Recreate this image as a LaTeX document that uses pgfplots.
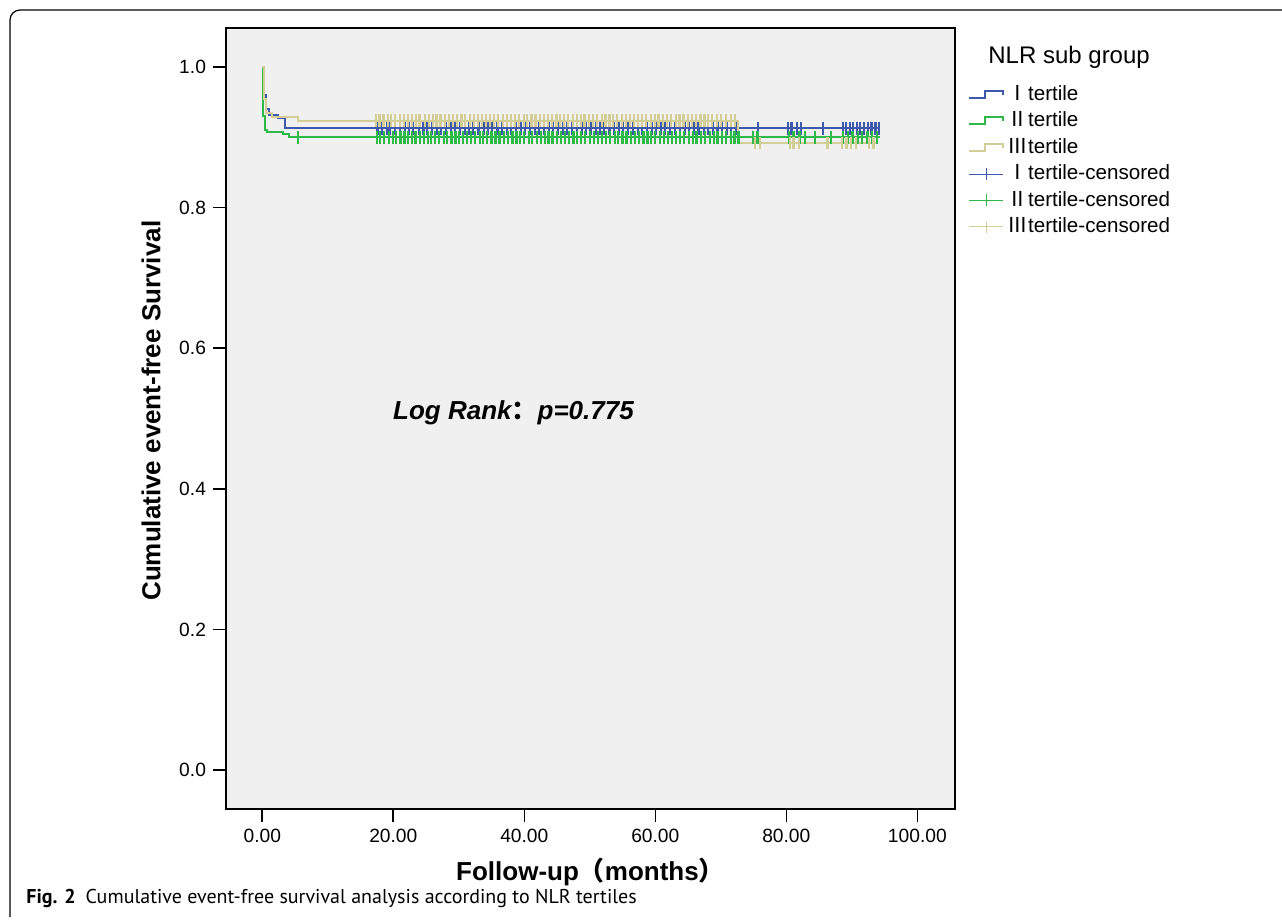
\documentclass[border=0pt]{standalone}
\usepackage{pgfplots}
\pgfplotsset{compat=1.18}
\usepackage{fontspec}
\setmainfont{Liberation Sans}
\newfontfamily\cjk{Noto Sans CJK SC}
\newfontfamily\capfont{PT Sans}
\definecolor{cI}{HTML}{3E58AC}
\definecolor{cII}{HTML}{2EB848}
\definecolor{cIII}{HTML}{D3CE97}
\definecolor{panel}{HTML}{F0F0F0}
\pgfplotsset{
  steplegend/.style={legend image code/.code={\draw[##1] (0pt,-1.5pt) -- (8pt,-1.5pt) -- (8pt,2pt) -- (17pt,2pt) -- (17pt,0pt);}},
  censlegend/.style={legend image code/.code={\draw[##1] (0pt,0pt) -- (17pt,0pt); \draw[##1] (8.5pt,-3pt) -- (8.5pt,3pt);}},
  cens/.style={only marks, mark=|, mark size=3.2pt, mark options={line width=1.1pt}, censlegend},
}
\begin{document}
\begin{tikzpicture}
\useasboundingbox (0,0) rectangle (641pt,461.5pt);
\draw[line width=0.6pt, rounded corners=5pt] (5pt,3pt) -- (5pt,456.5pt) -- (645pt,456.5pt);
\begin{axis}[
  at={(113pt,57pt)}, anchor=south west,
  scale only axis, width=364.5pt, height=390.5pt,
  xmin=-5.54, xmax=105.75, ymin=-0.0555, ymax=1.0555,
  axis background/.style={fill=panel},
  axis line style={line width=0.8pt},
  every tick/.style={line width=0.8pt, black},
  tick align=outside, major tick length=6.5pt, tick pos=left,
  xtick={0,20,40,60,80,100}, ytick={0,0.2,0.4,0.6,0.8,1.0},
  /pgf/number format/assume math mode=true,
  xticklabel style={/pgf/number format/.cd, fixed, fixed zerofill, precision=2},
  yticklabel style={/pgf/number format/.cd, fixed, fixed zerofill, precision=1},
  tick label style={font=\fontsize{9.6}{11}\selectfont},
  xlabel={\textbf{Follow-up{\cjk （}months{\cjk ）}}},
  ylabel={\textbf{Cumulative event-free Survival}},
  label style={font=\fontsize{13}{15}\selectfont},
  xlabel style={at={(axis description cs:0.5,-0.0807)}, anchor=center},
  ylabel style={at={(axis description cs:-0.1029,0.51)}, anchor=center},
  legend style={at={(axis description cs:1.0178,0.932)}, anchor=north west,
    draw=none, fill=none, inner sep=0pt, row sep=0pt,
    font=\fontsize{10.3}{12}\selectfont,
    nodes={text height=7.9pt, text depth=2.2pt, inner sep=1.55pt}},
  legend cell align=left,
  clip=false,
]
\addplot[const plot, color=cI, line width=1pt, steplegend]
coordinates {(0,1.000) (0.2,0.960) (0.5,0.940) (1.0,0.932) (2.4,0.927) (3.5,0.9128) (94.3,0.9128)};
\addlegendentry{{\cjk Ⅰ}tertile}
\addplot[const plot, color=cII, line width=1pt, steplegend]
coordinates {(0,1.000) (0.15,0.930) (0.4,0.911) (0.7,0.908) (3.2,0.905) (4.1,0.900) (94.3,0.900)};
\addlegendentry{{\cjk Ⅱ}tertile}
\addplot[const plot, color=cIII, line width=1pt, steplegend]
coordinates {(0,1.000) (0.2,0.955) (0.6,0.935) (1.5,0.929) (5.5,0.9236) (72.6,0.892) (93.8,0.892)};
\addlegendentry{{\cjk Ⅲ}tertile}
\addplot[cens, color=cI]
table[y expr=0.9128] {
x
17.6
18.3
19.1
19.5
20.2
21.0
21.8
22.4
23.0
23.9
24.6
25.2
25.9
26.7
27.3
28.1
28.8
29.4
30.2
30.9
31.6
32.2
33.0
33.8
34.5
35.1
35.9
36.6
37.4
38.0
38.7
39.5
40.1
40.9
41.6
42.3
43.0
43.8
44.4
45.2
45.9
46.5
47.3
48.0
48.8
49.4
50.1
50.9
51.6
52.2
53.0
53.7
54.5
55.1
55.8
56.6
57.3
58.0
58.7
59.5
60.1
60.9
61.5
62.3
63.0
63.8
64.5
65.1
65.9
66.6
67.4
68.0
68.8
69.5
70.2
71.0
71.6
72.3
75.7
80.2
80.8
81.6
82.3
85.6
88.6
89.1
89.7
90.2
90.8
91.3
91.9
92.5
93.0
93.6
94.1
};
\addlegendentry{{\cjk Ⅰ}tertile-censored}
\addplot[cens, color=cII]
table[y expr=0.900] {
x
5.4
17.5
18.0
18.6
19.3
19.9
20.4
21.1
21.7
22.3
22.8
23.4
24.1
24.7
25.3
25.8
26.4
27.0
27.7
28.2
28.9
29.5
30.0
30.6
31.3
31.9
32.5
33.2
33.7
34.3
35.0
35.6
36.2
36.9
37.5
38.2
38.8
39.3
40.0
40.7
41.2
41.9
42.5
43.1
43.7
44.3
45.0
45.6
46.2
46.8
47.5
48.1
48.7
49.3
50.0
50.6
51.3
51.8
52.5
53.1
53.8
54.3
55.0
55.6
56.3
56.9
57.5
58.2
58.8
59.4
60.0
60.7
61.3
61.9
62.6
63.2
63.8
64.4
65.1
65.7
66.3
67.0
67.6
68.3
68.9
69.5
70.2
70.8
71.5
72.1
72.7
74.9
75.6
80.4
81.1
82.0
82.9
84.4
86.8
88.7
89.4
90.1
90.9
91.6
92.4
93.1
93.8
};
\addlegendentry{{\cjk Ⅱ}tertile-censored}
\addplot[cens, color=cIII]
table {
x y
17.4 0.9236
17.9 0.9236
18.5 0.9236
19.2 0.9236
19.7 0.9236
20.3 0.9236
21.0 0.9236
21.6 0.9236
22.2 0.9236
22.9 0.9236
23.5 0.9236
24.0 0.9236
24.8 0.9236
25.4 0.9236
26.1 0.9236
26.6 0.9236
27.2 0.9236
27.9 0.9236
28.5 0.9236
29.1 0.9236
29.7 0.9236
30.4 0.9236
31.0 0.9236
31.7 0.9236
32.3 0.9236
32.9 0.9236
33.5 0.9236
34.2 0.9236
34.8 0.9236
35.4 0.9236
36.0 0.9236
36.7 0.9236
37.3 0.9236
38.0 0.9236
38.6 0.9236
39.2 0.9236
39.9 0.9236
40.4 0.9236
41.1 0.9236
41.7 0.9236
42.4 0.9236
43.0 0.9236
43.6 0.9236
44.2 0.9236
44.9 0.9236
45.5 0.9236
46.1 0.9236
46.7 0.9236
47.4 0.9236
48.0 0.9236
48.6 0.9236
49.2 0.9236
49.9 0.9236
50.5 0.9236
51.1 0.9236
51.8 0.9236
52.4 0.9236
53.0 0.9236
53.6 0.9236
54.2 0.9236
54.9 0.9236
55.5 0.9236
56.1 0.9236
56.8 0.9236
57.4 0.9236
58.0 0.9236
58.6 0.9236
59.3 0.9236
59.9 0.9236
60.5 0.9236
61.2 0.9236
61.8 0.9236
62.4 0.9236
63.1 0.9236
63.7 0.9236
64.3 0.9236
65.0 0.9236
65.6 0.9236
66.2 0.9236
66.9 0.9236
67.5 0.9236
68.1 0.9236
68.7 0.9236
69.4 0.9236
70.0 0.9236
70.8 0.9236
71.5 0.9236
72.2 0.9236
75.2 0.892
76.0 0.892
80.5 0.892
81.1 0.892
81.9 0.892
86.3 0.892
88.5 0.892
89.2 0.892
89.9 0.892
90.6 0.892
92.6 0.892
93.3 0.892
};
\addlegendentry{{\cjk Ⅲ}tertile-censored}
\node[font=\bfseries\itshape\fontsize{13}{15}\selectfont, anchor=center] at (axis cs:38.35,0.508) {Log Rank{\cjk ：}p=0.775};
\end{axis}
\node[anchor=south west, inner sep=0pt, font=\fontsize{12}{14}\selectfont] at (494pt,427pt) {NLR sub group};
\node[anchor=base west, inner sep=0pt, font=\capfont\fontsize{10}{12}\selectfont] at (13pt,10pt) {\textbf{Fig. 2}\hspace{5pt}Cumulative event-free survival analysis according to NLR tertiles};
\end{tikzpicture}
\end{document}
